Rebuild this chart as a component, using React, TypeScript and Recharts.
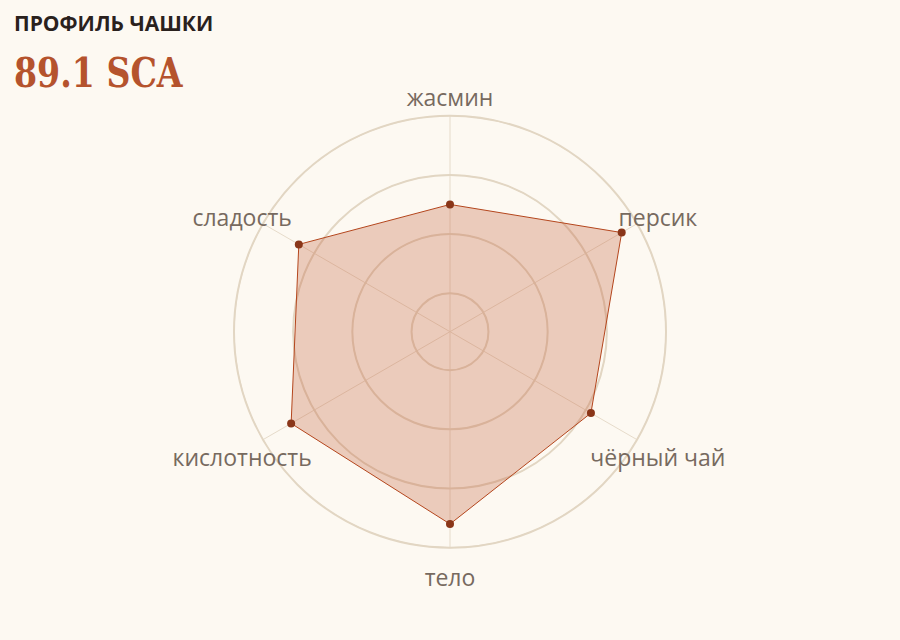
import { RadarChart, Radar, PolarGrid, PolarAngleAxis, PolarRadiusAxis } from "recharts";

const attributes = ["жасмин", "персик", "чёрный чай", "тело", "кислотность", "сладость"];
const scores = [8.5, 9.7, 9.1, 9.6, 9.45, 9.3];
const scaleDomain = [6.35, 10];
const ringTicks = [7, 8, 9, 10];

const CX = 450;
const CY = 331.7;
const OUTER = 216;
const LABEL_R = 240;

const data = attributes.map((name, i) => ({ name, score: scores[i] }));

function AngleTick(props: any) {
  const { x, y, payload } = props;
  const dx = x - CX;
  const dy = y - CY;
  const len = Math.sqrt(dx * dx + dy * dy) || 1;
  const ax = CX + (dx / len) * LABEL_R;
  const ay = CY + (dy / len) * LABEL_R;
  return (
    <text
      x={ax}
      y={ay + 14}
      textAnchor="middle"
      fill="#776a5f"
      fontSize={23}
      fontFamily="'Open Sans', sans-serif"
    >
      {payload.value}
    </text>
  );
}

export default function App() {
  return (
    <div
      style={{
        position: "fixed",
        left: 0,
        top: 0,
        width: 900,
        height: 640,
        background: "#fdf9f2",
        overflow: "hidden",
      }}
    >
      <div
        style={{
          position: "absolute",
          left: 14,
          top: 12.5,
          fontFamily: "'Open Sans', sans-serif",
          fontWeight: 700,
          fontSize: 21,
          lineHeight: 1,
          color: "#2a211d",
          whiteSpace: "nowrap",
        }}
      >
        ПРОФИЛЬ ЧАШКИ
      </div>
      <div
        style={{
          position: "absolute",
          left: 14,
          top: 52.5,
          fontFamily: "'DejaVu Serif', serif",
          fontWeight: 700,
          fontSize: 41,
          lineHeight: 1,
          color: "#b5532d",
          whiteSpace: "nowrap",
          transform: "scaleX(0.81)",
          transformOrigin: "left top",
        }}
      >
        89.1 SCA
      </div>
      <RadarChart
        width={900}
        height={640}
        data={data}
        cx={CX}
        cy={CY}
        outerRadius={OUTER}
        margin={{ top: 0, right: 0, bottom: 0, left: 0 }}
        style={{ position: "absolute", left: 0, top: 0 }}
      >
        <PolarGrid gridType="circle" stroke="#e6dbca" strokeWidth={1} />
        <PolarGrid gridType="circle" radialLines={false} stroke="#e2d6c3" strokeWidth={2} />
        <PolarAngleAxis dataKey="name" tick={<AngleTick />} tickLine={false} axisLine={false} />
        <PolarRadiusAxis
          type="number"
          domain={scaleDomain}
          ticks={ringTicks}
          tickCount={0}
          allowDataOverflow
          tick={false}
          axisLine={false}
          tickLine={false}
        />
        <Radar
          dataKey="score"
          stroke="#b4461d"
          strokeWidth={1}
          fill="#c2613b"
          fillOpacity={0.3}
          dot={{ r: 4, fill: "#8a3619", fillOpacity: 1, stroke: "none" }}
          isAnimationActive={false}
        />
      </RadarChart>
    </div>
  );
}
